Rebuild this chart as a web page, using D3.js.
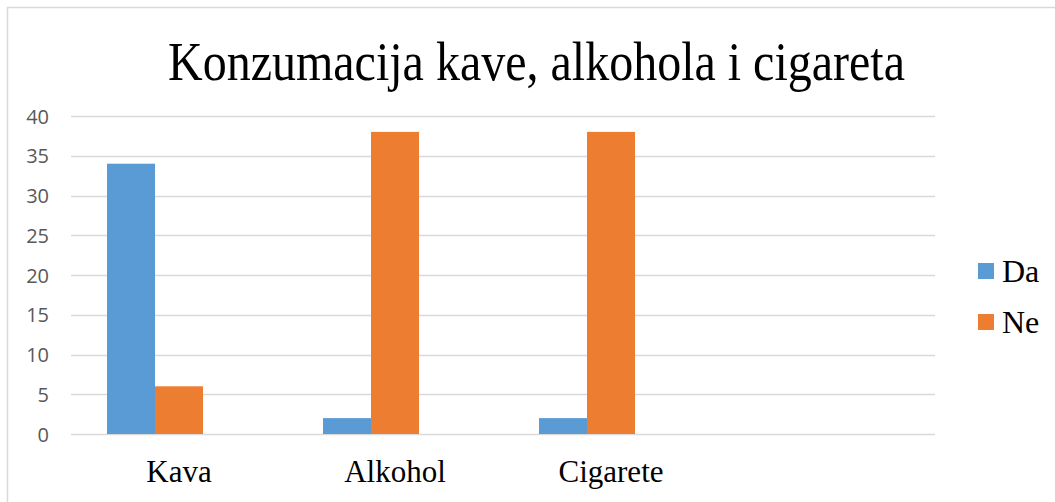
<!DOCTYPE html>
<html>
<head>
<meta charset="utf-8">
<script src="https://d3js.org/d3.v7.min.js"></script>
<style>
body { margin: 0; background: #fff; }
svg { display: block; }
.axis text { font-family: "Open Sans", "Liberation Sans", sans-serif; font-size: 20px; fill: #595959; }
.cat text { font-family: "Liberation Serif", "Times New Roman", serif; font-size: 31px; fill: #000; }
.legend text { font-family: "Liberation Serif", "Times New Roman", serif; font-size: 32px; fill: #000; }
</style>
</head>
<body>
<div id="container"></div>
<script>
// data
var categories = ["Kava", "Alkohol", "Cigarete", ""];
var series = ["Da", "Ne"];
var daValues = [34, 2, 2, null];
var neValues = [6, 38, 38, null];
var yTicks = [0, 5, 10, 15, 20, 25, 30, 35, 40];
var colours = ["#5b9bd5", "#ed7d31"];

var W = 1055, H = 502;
var margin = {top: 116, left: 71};
var width = 935 - margin.left,
    height = 434 - margin.top;

var svg = d3.select("#container").append("svg")
    .attr("width", W)
    .attr("height", H);

// chart frame (runs off the right and bottom edge)
svg.append("rect")
    .attr("x", 7.5).attr("y", 7.5)
    .attr("width", W + 10).attr("height", H + 10)
    .attr("fill", "#fff")
    .attr("stroke", "#d9d9d9")
    .attr("stroke-width", 1.5);

svg.append("text")
    .attr("x", 168)
    .attr("y", 80)
    .attr("textLength", 737)
    .attr("lengthAdjust", "spacingAndGlyphs")
    .style("font-family", "'Liberation Serif', 'Times New Roman', serif")
    .style("font-size", "54px")
    .text("Konzumacija kave, alkohola i cigareta");

var g = svg.append("g")
    .attr("transform", "translate(" + margin.left + "," + margin.top + ")");

var x0 = d3.scaleBand().domain(categories).range([0, width])
    .paddingInner(1 / 3).paddingOuter(1 / 6);
var x1 = d3.scaleBand().domain(["Da", "Ne", "_"]).range([0, x0.bandwidth()]);
var y = d3.scaleLinear().domain([0, 40]).range([height, 0]);

// gridlines
g.append("g")
    .selectAll("line")
    .data(yTicks)
    .enter().append("line")
    .attr("x1", 0).attr("x2", width)
    .attr("y1", function(d) { return Math.round(y(d)) + 0.5; })
    .attr("y2", function(d) { return Math.round(y(d)) + 0.5; })
    .attr("stroke", "#d9d9d9")
    .attr("stroke-width", 1.5);

// y axis labels
var yAxis = g.append("g")
    .attr("class", "axis")
    .attr("transform", "translate(-22,0)")
    .call(d3.axisLeft(y).tickValues(yTicks).tickSize(0).tickPadding(0));
yAxis.select(".domain").remove();
yAxis.selectAll("text").attr("dy", "0.36em");

// bars
var rows = categories.map(function(c, i) {
    return {cat: c, vals: [{s: "Da", v: daValues[i], c: colours[0]}, {s: "Ne", v: neValues[i], c: colours[1]}]};
});

g.selectAll(".grp")
    .data(rows)
    .enter().append("g")
    .attr("class", "grp")
    .attr("transform", function(d) { return "translate(" + x0(d.cat) + ",0)"; })
  .selectAll("rect")
    .data(function(d) { return d.vals.filter(function(e) { return e.v != null; }); })
    .enter().append("rect")
    .attr("x", function(d) { return x1(d.s); })
    .attr("y", function(d) { return y(d.v); })
    .attr("width", x1.bandwidth())
    .attr("height", function(d) { return height - y(d.v); })
    .attr("fill", function(d) { return d.c; });

// category labels
var xAxis = g.append("g")
    .attr("class", "cat")
    .attr("transform", "translate(0," + height + ")")
    .call(d3.axisBottom(x0).tickSize(0).tickPadding(0));
xAxis.select(".domain").remove();
xAxis.selectAll("text").attr("y", 48).attr("dy", 0);

// legend
var legend = svg.append("g")
    .attr("class", "legend")
    .attr("transform", "translate(978,263)");

var li = legend.selectAll("g")
    .data(series)
    .enter().append("g")
    .attr("transform", function(d, i) { return "translate(0," + i * 51 + ")"; });

li.append("rect")
    .attr("width", 16).attr("height", 16)
    .attr("fill", function(d, i) { return colours[i]; });

li.append("text")
    .attr("x", 24)
    .attr("y", 19)
    .text(function(d) { return d; });
</script>
</body>
</html>
